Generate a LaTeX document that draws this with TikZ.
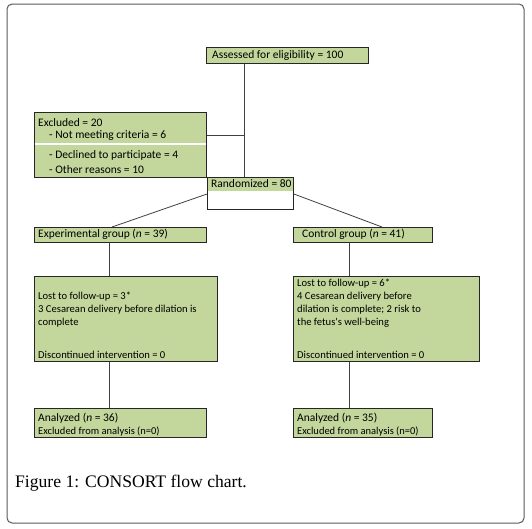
\documentclass[tikz,border=0pt]{standalone}
\usepackage{fontspec}
\setmainfont{Liberation Serif}
\newfontfamily\boxfont{Carlito}
\usetikzlibrary{positioning,calc}
\definecolor{boxgreen}{RGB}{195,214,155}
\tikzset{
  box/.style={draw=black!85, fill=boxgreen, line width=0.9pt, inner sep=0pt, anchor=north west},
  txt/.style={font=\boxfont\fontsize{11.5}{13}\selectfont, inner sep=0pt, anchor=west},
  body/.style={font=\boxfont\fontsize{10.6}{12}\selectfont},
  small/.style={font=\boxfont\fontsize{10.5}{12}\selectfont},
  link/.style={draw=black!75, line width=0.8pt},
}

\begin{document}
\begin{tikzpicture}[x=1pt,y=-1pt]
  \useasboundingbox (0,0) rectangle (532,528);
  % cadre
  \draw[gray!70!black, line width=1pt, rounded corners=5pt] (7,4) rectangle (524,523);
  % boites
  \node[box, minimum width=162, minimum height=16] (assessed) at (206,47) {};
  \node[box, minimum width=172, minimum height=65] (excluded) at (34,112) {};
  \draw[white, line width=1.5pt] ([xshift=0.5pt]excluded.west |- 0,144) -- ([xshift=-0.5pt]excluded.east |- 0,144);
  \node[box, fill=white, minimum width=86, minimum height=32] (randomized) at (207,177) {};
  \fill[boxgreen] ([shift={(0.5pt,-0.5pt)}]randomized.north west) rectangle ([shift={(-0.5pt,0pt)}]randomized.east |- 0,191);
  \node[box, minimum width=172, minimum height=15] (expgroup) at (34,227) {};
  \node[box, minimum width=139, minimum height=15] (ctrlgroup) at (293,227) {};
  \node[box, minimum width=183, minimum height=85] (explost) at (34,276) {};
  \node[box, minimum width=186, minimum height=85] (ctrllost) at (293,276) {};
  \node[box, minimum width=172, minimum height=29] (expanalyzed) at (34,408) {};
  \node[box, minimum width=139, minimum height=29] (ctrlanalyzed) at (293,408) {};
  % liaisons
  \coordinate (trunk) at (244,135);
  \draw[link] (assessed.south -| trunk) -- (randomized.north -| trunk);
  \draw[link] (excluded.east |- trunk) -- (trunk);
  \draw[link] ([yshift=-17pt]randomized.north west) -- (expgroup.north -| 112,0);
  \draw[link] ([yshift=-17pt]randomized.north east) -- (ctrlgroup.north -| 382,0);
  \draw[link] (expgroup.south -| 109,0) -- (explost.north -| 109,0);
  \draw[link] (explost.south -| 109,0) -- (expanalyzed.north -| 109,0);
  \draw[link] (ctrlgroup.south -| 349,0) -- (ctrllost.north -| 349,0);
  \draw[link] (ctrllost.south -| 349,0) -- (ctrlanalyzed.north -| 349,0);
  % textes
  \node[txt] (assessedtxt) at (212,55) {Assessed for eligibility = 100};
  \node[txt] (excl1) at (38,123) {Excluded = 20};
  \node[txt] (excl2) at (49,136) {- Not meeting criteria = 6};
  \node[txt] (excl3) at (49,155) {- Declined to participate = 4};
  \node[txt] (excl4) at (49,170) {- Other reasons = 10};
  \node[txt] (randtxt) at (211,184) {Randomized = 80};
  \node[txt] (exptxt) at (38,234.5) {Experimental group (\textit{n} = 39)};
  \node[txt] (ctrltxt) at (302,234.5) {Control group (\textit{n} = 41)};
  \node[txt, body] (explost1) at (38,297) {Lost to follow-up = 3*};
  \node[txt, body] (explost2) at (38,310) {3 Cesarean delivery before dilation is};
  \node[txt, body] (explost3) at (38,323) {complete};
  \node[txt, body] (explost4) at (38,355) {Discontinued intervention = 0};
  \node[txt, body] (ctrllost1) at (297,284) {Lost to follow-up = 6*};
  \node[txt, body] (ctrllost2) at (297,297) {4 Cesarean delivery before};
  \node[txt, body] (ctrllost3) at (297,310) {dilation is complete; 2 risk to};
  \node[txt, body] (ctrllost4) at (297,323) {the fetus's well-being};
  \node[txt, body] (ctrllost5) at (297,355) {Discontinued intervention = 0};
  \node[txt] (expan1) at (38,418) {Analyzed (\textit{n} = 36)};
  \node[txt, small] (expan2) at (38,431) {Excluded from analysis (n=0)};
  \node[txt] (ctrlan1) at (297,418) {Analyzed (\textit{n} = 35)};
  \node[txt, small] (ctrlan2) at (297,431) {Excluded from analysis (n=0)};
  % legende
  \node[font=\fontsize{17.6}{20}\selectfont, inner sep=0pt, anchor=base west] (caption) at (15,487) {Figure 1: CONSORT flow chart.};
\end{tikzpicture}
\end{document}
